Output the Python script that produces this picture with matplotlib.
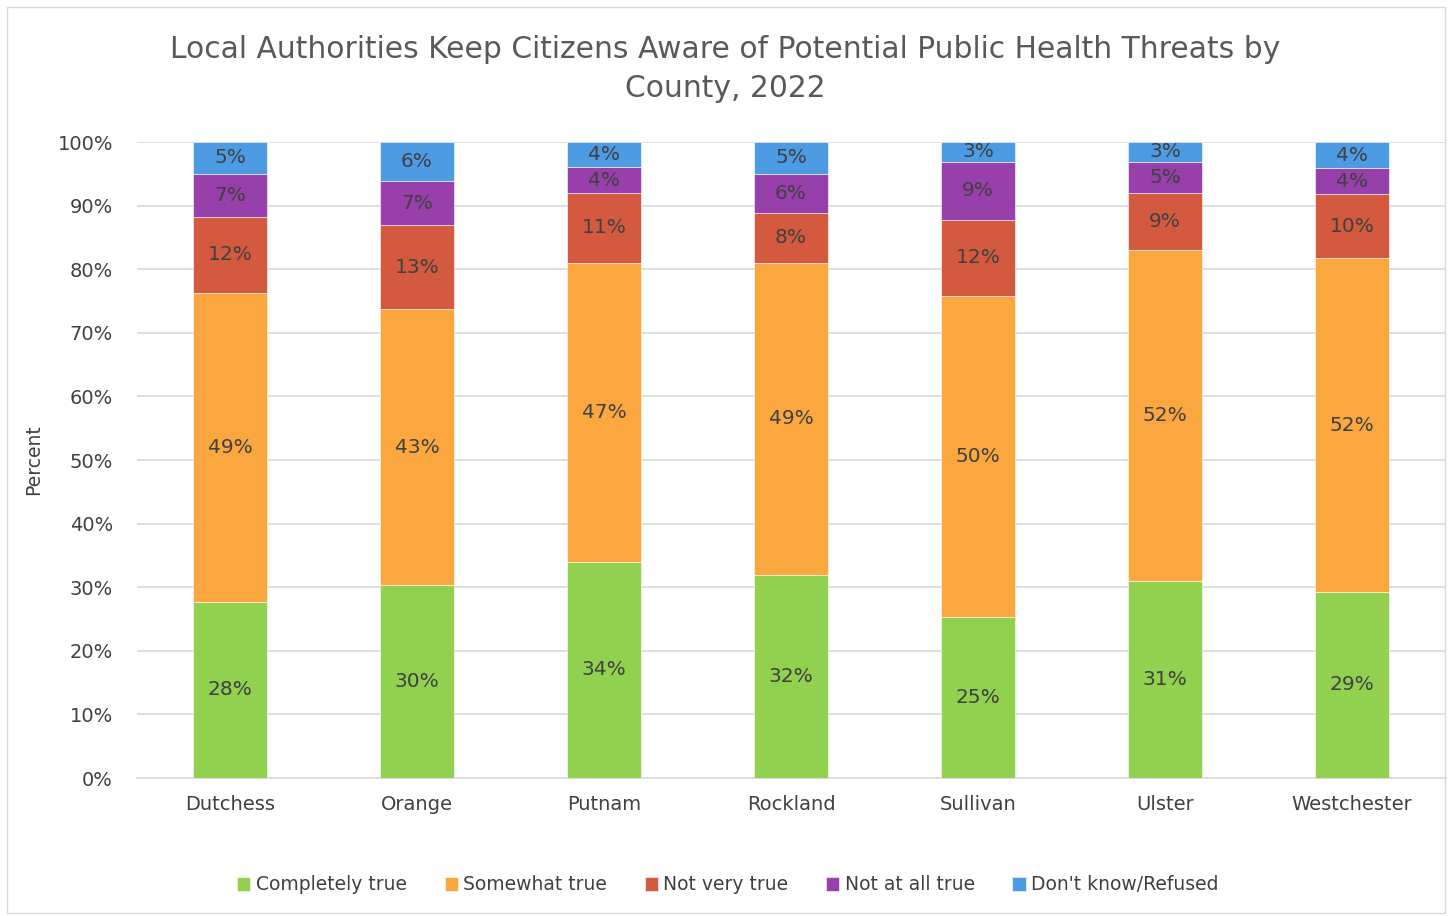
import numpy as np
import matplotlib
matplotlib.use('Agg')
import matplotlib.pyplot as plt
from matplotlib.ticker import PercentFormatter

# ─────────────────────────────────────────
# DATA (percent of respondents)
# ─────────────────────────────────────────
counties = ['Dutchess', 'Orange', 'Putnam', 'Rockland', 'Sullivan', 'Ulster', 'Westchester']

completely_true = [27.7, 30.3, 34.0, 31.9, 25.3, 31.0, 29.3]
somewhat_true   = [48.6, 43.4, 47.0, 49.1, 50.5, 52.0, 52.4]
not_very_true   = [11.9, 13.2, 11.0,  7.9, 12.0,  9.0, 10.1]
not_at_all_true = [ 6.8,  7.0,  4.0,  6.1,  9.1,  4.9,  4.1]
dont_know       = [ 5.0,  6.1,  4.0,  5.0,  3.1,  3.1,  4.1]

series_names = ['Completely true', 'Somewhat true', 'Not very true',
                'Not at all true', "Don't know/Refused"]
series_vals = [completely_true, somewhat_true, not_very_true, not_at_all_true, dont_know]
colors = ['#92d050', '#f9a73e', '#d35a3e', '#973fab', '#4c9be3']

# ─────────────────────────────────────────
# PLOT
# ─────────────────────────────────────────
plt.rcParams['font.family'] = ['DejaVu Sans']
text_col = '#404040'

fig = plt.figure(figsize=(14.52, 9.16), dpi=100)
ax = fig.add_axes([136.5 / 1452, 1 - 778 / 916, 1309 / 1452, 636 / 916])

x = np.arange(len(counties))
bottom = np.zeros(len(counties))
for name, vals, c in zip(series_names, series_vals, colors):
    vals = np.array(vals)
    bars = ax.bar(x, vals, width=0.4, bottom=bottom, color=c, label=name,
                  edgecolor='white', linewidth=0.4, zorder=3)
    labels = [f'{round(v):.0f}%' for v in vals]
    ax.bar_label(bars, labels=labels, label_type='center', fontsize=14.5, color=text_col)
    bottom += vals

ax.set_xlim(-0.5, len(counties) - 0.5)
ax.set_ylim(0, 100)
ax.set_yticks(np.arange(0, 101, 10))
ax.yaxis.set_major_formatter(PercentFormatter(decimals=0))
ax.set_xticks(x)
ax.set_xticklabels(counties)
ax.tick_params(axis='both', length=0, labelsize=14, labelcolor=text_col)
ax.tick_params(axis='x', pad=12)
ax.tick_params(axis='y', pad=17)
ax.grid(axis='y', color='#d9d9d9', linewidth=1.2, zorder=0)
for s in ['top', 'right', 'left']:
    ax.spines[s].set_visible(False)
ax.spines['bottom'].set_color('#d9d9d9')
ax.spines['bottom'].set_linewidth(1.2)

ax.set_ylabel('Percent', fontsize=13.5, color=text_col, labelpad=10)

fig.text(725 / 1452, 1 - 69 / 916,
         'Local Authorities Keep Citizens Aware of Potential Public Health Threats by\nCounty, 2022',
         ha='center', va='center', fontsize=21.4, color='#595959', linespacing=1.4)

leg = fig.legend(loc='center', bbox_to_anchor=(728 / 1452, 1 - 885 / 916), ncol=5,
                 frameon=False, fontsize=13.5, handlelength=0.7, handleheight=0.7,
                 handletextpad=0.3, columnspacing=2.0)
for t in leg.get_texts():
    t.set_color(text_col)

# chart area border
fig.patches.append(plt.Rectangle((7 / 1452, 3 / 916), 1438 / 1452, 906 / 916,
                                 transform=fig.transFigure, fill=False,
                                 edgecolor='#d9d9d9', linewidth=1))

plt.savefig('out.png', dpi=100)
